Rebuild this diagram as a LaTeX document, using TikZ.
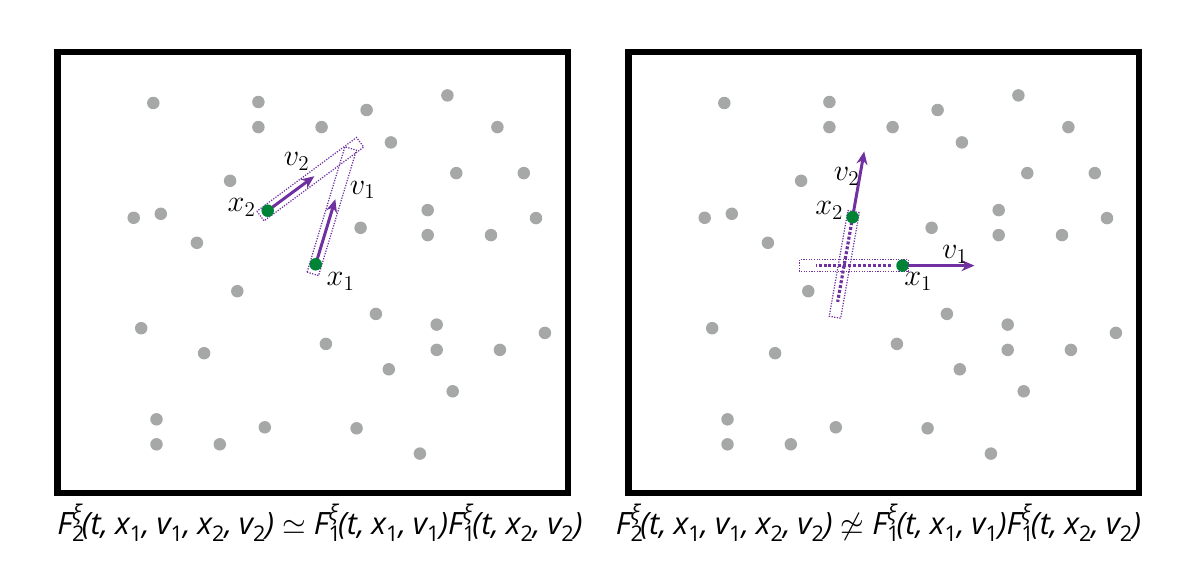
\documentclass[tikz,border=0pt]{standalone}
\usepackage{fontspec}
\usepackage{amsmath,amssymb}
\usetikzlibrary{arrows.meta, calc}
\newfontfamily\capfont{Open Sans}
\definecolor{ptgray}{RGB}{166,168,168}
\definecolor{ptgreen}{RGB}{0,130,55}
\definecolor{ptviolet}{RGB}{112,48,160}

% indices et exposants de la légende
\newcommand{\lowsub}[1]{\raisebox{-0.45ex}{\fontsize{12.3}{14}\selectfont\upshape #1}}
\newcommand{\Fxi}[1]{F\rlap{\lowsub{#1}}\raisebox{0.85ex}{\fontsize{12.3}{14}\selectfont ξ}}
\newcommand{\csp}{,\hspace{0.22em}}

\begin{document}
\begin{tikzpicture}[
    x=0.02cm, y=-0.02cm,
    frame/.style={draw=black, line width=0.13cm},
    particle/.style={circle, fill=ptgreen, minimum size=0.25cm, inner sep=0pt},
    vec/.style={ptviolet, line width=1.7pt, -{Stealth[length=0.26cm, width=0.22cm]}},
    tube/.style={draw=ptviolet, line width=0.7pt, dash pattern=on 0.7pt off 0.8pt},
    trail/.style={ptviolet, line width=1.8pt, dash pattern=on 1.7pt off 1.1pt},
    lbl/.style={font=\fontsize{17}{20}\selectfont},
    caption/.style={font=\capfont\itshape\fontsize{17.5}{20}\selectfont, anchor=base}
]
\useasboundingbox (0,0) rectangle (1200,571);

% Les deux cadres
\draw[frame] (57.25,52.25) rectangle (567.75,492.75);
\draw[frame] (628.25,52.25) rectangle (1138.75,492.75);

% Particules de fond (mêmes positions dans les deux cadres)
\foreach \ox in {54,625} {
  \foreach \px/\py in {99.3/54.0, 204.4/53.0, 204.4/78.1, 267.6/78.1, 312.6/61.0,
      393.4/46.4, 443.4/78.1, 336.9/93.4, 402.3/124.1, 469.8/124.1, 176.1/131.8,
      106.8/164.8, 79.7/168.8, 373.7/161.1, 482.0/169.1, 306.6/178.8, 373.7/186.1,
      437.0/186.1, 142.9/193.8, 183.3/242.2, 321.9/264.9, 87.2/279.2, 382.7/275.6,
      490.9/283.9, 271.9/294.9, 150.1/304.2, 382.7/300.9, 445.9/300.9, 334.8/320.3,
      398.7/342.3, 102.5/370.3, 210.8/378.3, 302.6/379.3, 102.5/395.3, 165.8/395.3,
      365.9/404.6} {
    \fill[ptgray] (\ox+\px,49+\py) circle (0.125cm);
  }
}

% Cadre gauche : trajectoires vers l'avant, sans recouvrement
\coordinate (xa1) at (315.7,264.3);
\coordinate (xa2) at (267.7,210.7);
\begin{scope}[shift={(xa1)}, rotate=73.2]
  \draw[tube] (-10,-6) rectangle (121,6);
  \coordinate (va1) at (68,0);
\end{scope}
\begin{scope}[shift={(xa2)}, rotate=36.5]
  \draw[tube] (-9,-6) rectangle (115,6);
  \coordinate (va2) at (58,0);
\end{scope}
\draw[vec] (xa1) -- (va1);
\draw[vec] (xa2) -- (va2);
\node[particle] (pa1) at (xa1) {};
\node[particle] (pa2) at (xa2) {};
\node[lbl] (la1) at (340.7,281.7) {$x_1$};
\node[lbl] (la2) at (241.7,207.3) {$x_2$};
\node[lbl] (lva1) at (362.7,190) {$v_1$};
\node[lbl] (lva2) at (296.7,161.7) {$v_2$};

% Cadre droit : trajectoires passées qui se croisent
\coordinate (xb1) at (902.5,265.6);
\coordinate (xb2) at (852.6,217.2);
\coordinate (vb1) at (974.5,265.6);
\begin{scope}[shift={(xb1)}, rotate=180]
  \draw[tube] (-6,-6) rectangle (103,6);
  \draw[trail] (12,0) -- (87,0);
\end{scope}
\begin{scope}[shift={(xb2)}, rotate=260]
  \draw[tube] (-5.7,-5.8) rectangle (101.6,5.8);
  \draw[trail] (5,0) -- (86,0);
  \coordinate (vb2) at (-66.8,0);
\end{scope}
\draw[vec] (xb1) -- (vb1);
\draw[vec] (xb2) -- (vb2);
\node[particle] (pb1) at (xb1) {};
\node[particle] (pb2) at (xb2) {};
\node[lbl] (lb1) at (918.3,281.7) {$x_1$};
\node[lbl] (lb2) at (829.3,210.7) {$x_2$};
\node[lbl] (lvb1) at (955,254.3) {$v_1$};
\node[lbl] (lvb2) at (846.7,176.7) {$v_2$};

% Légendes
\node[caption] (capa) at (320,534) {\Fxi{2}(t\csp x\lowsub{1}\csp v\lowsub{1}\csp x\lowsub{2}\csp v\lowsub{2}) $\simeq$ \Fxi{1}(t\csp x\lowsub{1}\csp v\lowsub{1})\Fxi{1}(t\csp x\lowsub{2}\csp v\lowsub{2})};
\node[caption] (capb) at (878.5,534) {\Fxi{2}(t\csp x\lowsub{1}\csp v\lowsub{1}\csp x\lowsub{2}\csp v\lowsub{2}) $\not\simeq$ \Fxi{1}(t\csp x\lowsub{1}\csp v\lowsub{1})\Fxi{1}(t\csp x\lowsub{2}\csp v\lowsub{2})};

\end{tikzpicture}
\end{document}
